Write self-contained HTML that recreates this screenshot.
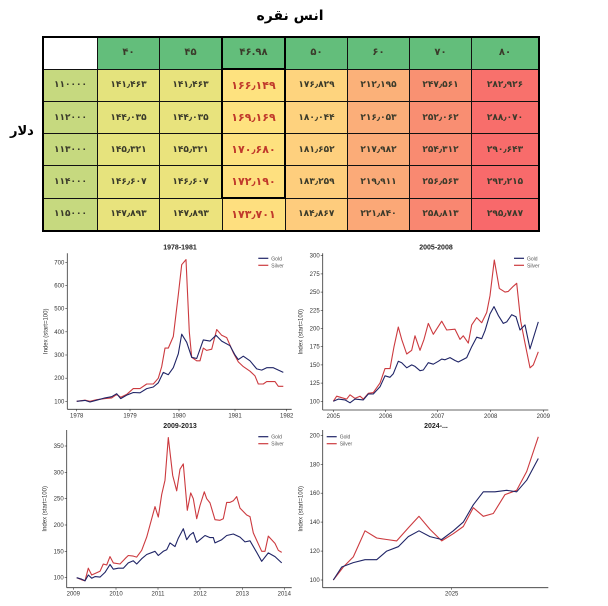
<!DOCTYPE html>
<html><head><meta charset="utf-8"><style>
body{margin:0;width:608px;height:606px;background:#fff;position:relative;overflow:hidden;font-family:"DejaVu Sans","Liberation Sans",sans-serif}
#t{position:absolute;left:42px;top:36px;border-collapse:collapse;border:2px solid #000;table-layout:fixed}
#t td{border:1px solid #111;height:31px;padding:0;text-align:center;font-size:9px;font-weight:bold;color:#3a3a2a;font-family:"DejaVu Sans",sans-serif;line-height:10px}
#t tr.h td{height:30px;background:#63be7b;font-size:10px}
#t tr.h td:first-child{background:#fff}
.red{color:#c0392b!important;font-size:11px!important}
.box{border-left:2px solid #000!important;border-right:2px solid #000!important}
#title{position:absolute;left:0;width:580px;top:8px;text-align:center;font-size:14px;font-weight:bold}
#dl{position:absolute;left:10px;top:124px;font-size:13px;font-weight:bold}
svg{position:absolute;left:0;top:0}
</style></head><body>
<div id="title">انس نقره</div>
<div id="dl">دلار</div>
<table id="t">
<tr class="h"><td style="width:53px"></td><td style="width:61px">۴۰</td><td style="width:61px">۴۵</td><td style="width:61px" class="box">۴۶.۹۸</td><td style="width:61px">۵۰</td><td style="width:61px">۶۰</td><td style="width:61px">۷۰</td><td style="width:66px">۸۰</td></tr>
<tr><td style="background:#c6d97f">۱۱۰۰۰۰</td><td style="background:#e4e37d">۱۴۱٫۴۶۳</td><td style="background:#e8e37d">۱۴۱٫۴۶۳</td><td class="red box" style="background:#fee27f;border-top:2px solid #000">۱۶۶٫۱۴۹</td><td style="background:#fed47e">۱۷۶٫۸۲۹</td><td style="background:#fbb179">۲۱۲٫۱۹۵</td><td style="background:#f99172">۲۴۷٫۵۶۱</td><td style="background:#f8716c">۲۸۲٫۹۲۶</td></tr>
<tr><td style="background:#c6d97f">۱۱۲۰۰۰</td><td style="background:#e4e37d">۱۴۴٫۰۳۵</td><td style="background:#e8e37d">۱۴۴٫۰۳۵</td><td class="red box" style="background:#fee27f">۱۶۹٫۱۶۹</td><td style="background:#fed27e">۱۸۰٫۰۴۴</td><td style="background:#fbae79">۲۱۶٫۰۵۳</td><td style="background:#f98e72">۲۵۲٫۰۶۲</td><td style="background:#f86e6b">۲۸۸٫۰۷۰</td></tr>
<tr><td style="background:#c6d97f">۱۱۳۰۰۰</td><td style="background:#e6e37d">۱۴۵٫۳۲۱</td><td style="background:#eae37d">۱۴۵٫۳۲۱</td><td class="red box" style="background:#fee17f">۱۷۰٫۶۸۰</td><td style="background:#fed07e">۱۸۱٫۶۵۲</td><td style="background:#fbac78">۲۱۷٫۹۸۲</td><td style="background:#f98b71">۲۵۴٫۳۱۲</td><td style="background:#f86c6b">۲۹۰٫۶۴۳</td></tr>
<tr><td style="background:#c6d97f">۱۱۴۰۰۰</td><td style="background:#e6e37d">۱۴۶٫۶۰۷</td><td style="background:#ebe37d">۱۴۶٫۶۰۷</td><td class="red box" style="background:#fee07f;border-bottom:2px solid #000">۱۷۲٫۱۹۰</td><td style="background:#fece7d">۱۸۳٫۲۵۹</td><td style="background:#fbaa78">۲۱۹٫۹۱۱</td><td style="background:#f98971">۲۵۶٫۵۶۳</td><td style="background:#f86a6b">۲۹۳٫۲۱۵</td></tr>
<tr><td style="background:#c6d97f">۱۱۵۰۰۰</td><td style="background:#e8e37d">۱۴۷٫۸۹۳</td><td style="background:#ece37d">۱۴۷٫۸۹۳</td><td class="red" style="background:#fedf7f">۱۷۳٫۷۰۱</td><td style="background:#fecc7d">۱۸۴٫۸۶۷</td><td style="background:#fba877">۲۲۱٫۸۴۰</td><td style="background:#f98771">۲۵۸٫۸۱۳</td><td style="background:#f8696b">۲۹۵٫۷۸۷</td></tr>
</table>
<svg id="s" width="608" height="606" xmlns="http://www.w3.org/2000/svg" font-family="Liberation Sans, sans-serif"></svg>
<script>
var charts=[
{ox:30,oy:240,title:"1978-1981",tx:450,ty:20,ax:112,ay:508,ar:785,at:40,
 yt:[100,200,300,400,500,600,700],ymap:function(v){return 484-(v-100)*0.695},
 xt:[[140,"1978"],[300,"1979"],[447,"1980"],[615,"1981"],[770,"1982"]],leg:[685,55],
 g:[[140,100],[165,104],[180,97],[200,105],[225,115],[245,120],[260,133],[272,112],[290,127],[310,138],[330,137],[350,155],[370,162],[385,180],[400,225],[415,215],[430,245],[445,305],[455,390],[470,355],[485,290],[500,285],[520,365],[540,360],[558,385],[575,360],[600,340],[615,300],[625,280],[640,295],[660,275],[680,240],[695,235],[710,245],[730,245],[760,225]],
 s:[[140,100],[165,105],[180,100],[200,107],[225,112],[245,115],[260,130],[272,118],[290,130],[310,155],[330,155],[350,175],[370,175],[385,200],[395,250],[405,330],[415,330],[430,380],[445,560],[455,690],[468,712],[478,400],[485,290],[500,275],[510,275],[520,330],[530,320],[545,325],[560,410],[575,385],[590,375],[610,310],[625,270],[640,250],[660,230],[675,210],[685,175],[700,175],[710,185],[735,185],[745,165],[760,165]]},
{ox:300,oy:240,title:"2005-2008",tx:408,ty:20,ax:68,ay:510,ar:745,at:40,
 yt:[100,125,150,175,200,225,250,275,300],ymap:function(v){return 484-(v-100)*2.185},
 xt:[[100,"2005"],[257,"2006"],[413,"2007"],[572,"2008"],[730,"2009"]],leg:[642,55],
 g:[[100,100],[115,103],[135,102],[150,98],[165,103],[190,102],[205,110],[220,110],[240,120],[255,135],[270,133],[280,138],[295,155],[305,153],[320,146],[335,150],[345,148],[360,142],[370,143],[385,153],[400,151],[415,155],[425,158],[435,157],[450,160],[465,156],[475,154],[500,160],[515,175],[530,188],[545,186],[555,197],[570,220],[582,230],[595,218],[610,207],[620,209],[635,219],[648,216],[660,198],[675,205],[690,172],[715,209]],
 s:[[100,100],[110,107],[125,105],[140,103],[150,109],[165,104],[180,107],[190,103],[205,111],[220,112],[240,125],[255,145],[270,145],[282,175],[295,202],[305,185],[320,165],[335,170],[345,190],[360,170],[372,185],[385,207],[400,192],[425,210],[440,198],[465,199],[480,185],[490,190],[505,180],[515,205],[530,215],[545,208],[560,222],[570,245],[583,294],[598,255],[615,250],[625,251],[640,258],[650,262],[662,210],[675,180],[690,146],[700,150],[715,168]]},
{ox:30,oy:415,title:"2009-2013",tx:450,ty:30,ax:110,ay:518,ar:785,at:45,
 yt:[100,150,200,250,300,350],ymap:function(v){return 488-(v-100)*1.58},
 xt:[[130,"2009"],[258,"2010"],[384,"2011"],[510,"2012"],[637,"2013"],[763,"2014"]],leg:[685,65],
 g:[[140,100],[155,97],[165,94],[175,105],[185,99],[195,102],[210,101],[225,110],[240,125],[250,116],[265,118],[280,118],[295,128],[310,132],[320,126],[335,136],[350,144],[375,150],[385,142],[400,150],[410,153],[420,166],[435,159],[445,175],[460,193],[470,172],[480,181],[490,186],[500,167],[510,172],[525,180],[540,176],[550,176],[555,166],[575,172],[590,180],[610,183],[630,177],[645,168],[660,170],[680,148],[695,131],[715,147],[735,140],[755,128]],
 s:[[140,100],[155,96],[165,94],[175,118],[185,105],[195,108],[210,112],[220,126],[230,124],[240,140],[250,128],[270,126],[285,136],[295,142],[310,141],[320,139],[335,152],[350,177],[360,200],[375,235],[385,215],[395,258],[405,285],[415,366],[428,294],[440,265],[450,306],[460,316],[472,228],[482,261],[490,250],[500,212],[510,237],[523,263],[530,250],[540,242],[555,210],[570,209],[580,212],[590,243],[600,243],[610,246],[620,254],[630,232],[650,219],[660,216],[670,185],[695,150],[705,150],[715,179],[735,165],[745,152],[755,148]]},
{ox:300,oy:415,title:"2024-...",tx:408,ty:30,ax:68,ay:518,ar:745,at:45,
 yt:[100,120,140,160,180,200],ymap:function(v){return 495-(v-100)*4.34},
 xt:[[455,"2025"]],leg:[80,65],
 g:[[100,100],[125,109],[160,112],[195,114],[230,114],[260,120],[295,123],[325,130],[357,134],[390,130],[425,128],[460,134],[490,140],[520,152],[550,161],[585,161],[620,162],[650,161],[680,169],[715,184]],
 s:[[100,100],[130,109],[160,116],[195,134],[230,129],[260,128],[290,127],[325,136],[357,144],[390,135],[425,127],[460,132],[490,137],[520,150],[550,144],[580,146],[615,159],[650,162],[680,175],[715,199]]}
];
var h="";
charts.forEach(function(c){
 function X(z){return (c.ox+z/3).toFixed(1)} function Y(z){return (c.oy+z/3).toFixed(1)}
 h+='<text x="'+X(c.tx)+'" y="'+(+Y(c.ty)+3)+'" font-size="7" font-weight="bold" text-anchor="middle" fill="#222">'+c.title+'</text>';
 h+='<line x1="'+X(c.ax)+'" y1="'+Y(c.at)+'" x2="'+X(c.ax)+'" y2="'+Y(c.ay)+'" stroke="#333" stroke-width="0.8"/>';
 h+='<line x1="'+X(c.ax)+'" y1="'+Y(c.ay)+'" x2="'+X(c.ar)+'" y2="'+Y(c.ay)+'" stroke="#333" stroke-width="0.8"/>';
 c.yt.forEach(function(v){var y=Y(c.ymap(v));h+='<line x1="'+X(c.ax)+'" y1="'+y+'" x2="'+(X(c.ax)-2)+'" y2="'+y+'" stroke="#333" stroke-width="0.6"/><text x="'+(X(c.ax)-3)+'" y="'+(+y+2)+'" font-size="6" text-anchor="end" fill="#333">'+v+'</text>';});
 c.xt.forEach(function(t){var x=X(t[0]);h+='<line x1="'+x+'" y1="'+Y(c.ay)+'" x2="'+x+'" y2="'+(+Y(c.ay)+2)+'" stroke="#333" stroke-width="0.6"/><text x="'+x+'" y="'+(+Y(c.ay)+8)+'" font-size="6" text-anchor="middle" fill="#333">'+t[1]+'</text>';});
 var mx=(+X(c.ax))-20, my=(+Y((c.at+c.ay)/2));
 h+='<text transform="translate('+mx+','+my+') rotate(-90)" font-size="6" text-anchor="middle" fill="#333">Index (start=100)</text>';
 function pl(d,col){return '<polyline fill="none" stroke="'+col+'" stroke-width="1.1" stroke-linejoin="round" points="'+d.map(function(p){return X(p[0])+','+Y(c.ymap(p[1]))}).join(' ')+'"/>';}
 h+=pl(c.s,"#cc3a3f")+pl(c.g,"#1f2466");
 var lx=+X(c.leg[0]), ly=+Y(c.leg[1]);
 h+='<line x1="'+lx+'" y1="'+ly+'" x2="'+(lx+10)+'" y2="'+ly+'" stroke="#1f2466" stroke-width="1.2"/><text x="'+(lx+13)+'" y="'+(ly+2)+'" font-size="5" fill="#555">Gold</text>';
 h+='<line x1="'+lx+'" y1="'+(ly+7)+'" x2="'+(lx+10)+'" y2="'+(ly+7)+'" stroke="#cc3a3f" stroke-width="1.2"/><text x="'+(lx+13)+'" y="'+(ly+9)+'" font-size="5" fill="#555">Silver</text>';
});
document.getElementById("s").innerHTML=h;
</script>
</body></html>
